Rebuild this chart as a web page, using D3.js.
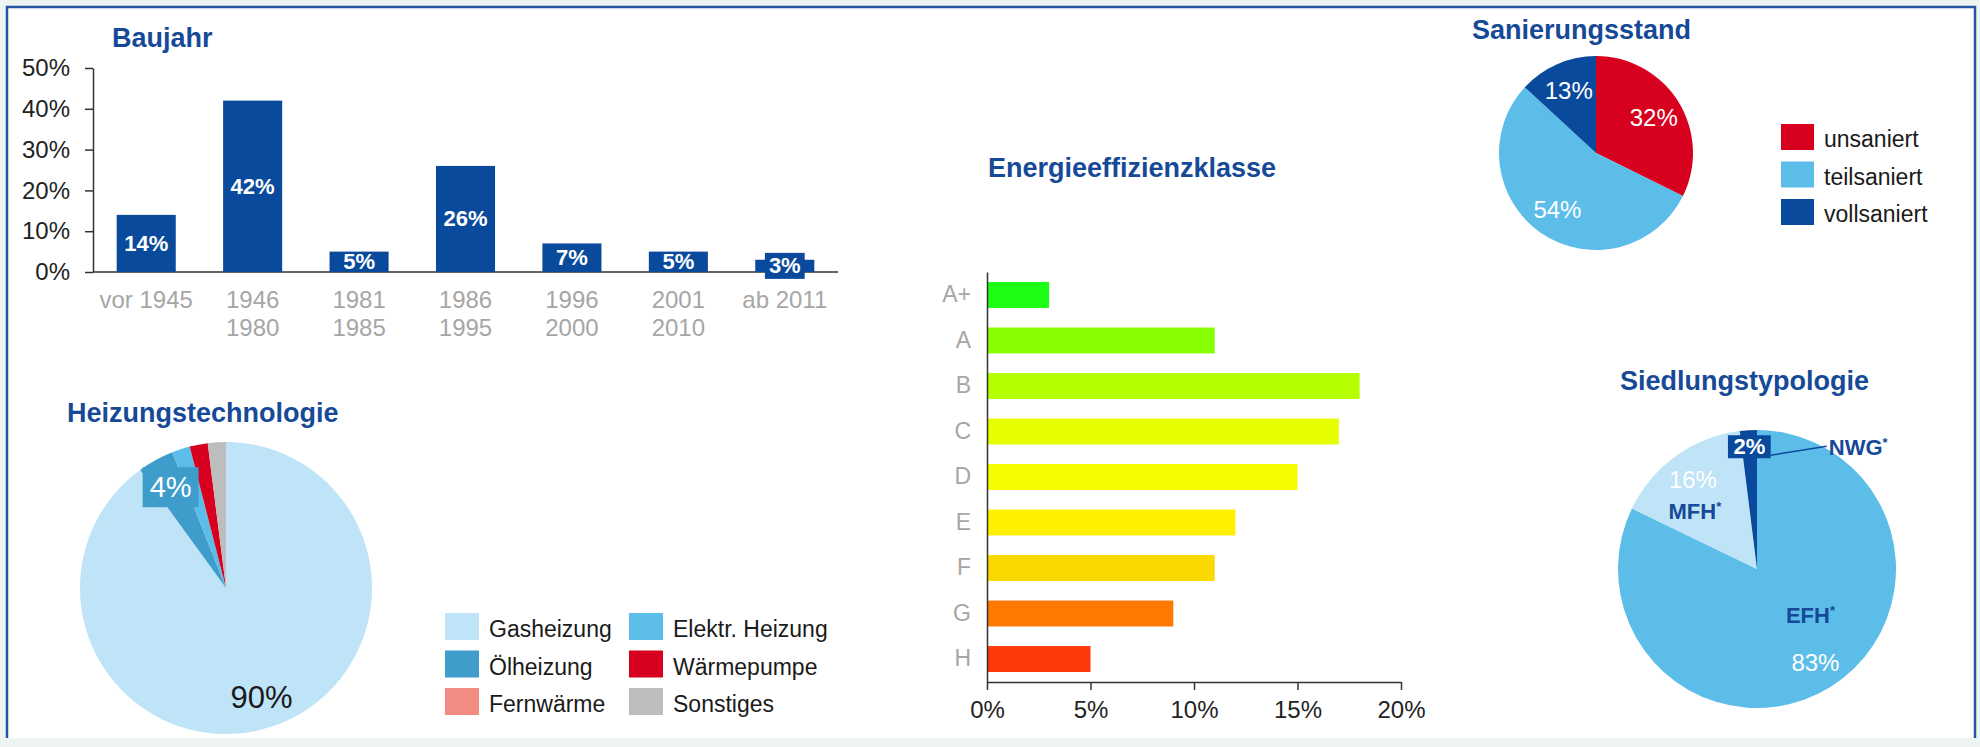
<!DOCTYPE html>
<html>
<head>
<meta charset="utf-8">
<script src="https://cdn.jsdelivr.net/npm/d3@7"></script>
<style>
  body { margin: 0; background: #eef4f1; }
  svg { display: block; font-family: "Liberation Sans", Arial, sans-serif; }
</style>
</head>
<body>
<svg id="chart"></svg>
<script>
const width = 1980;
const height = 747;

// Baujahr
const baujahrLabels = [["vor 1945"], ["1946", "1980"], ["1981", "1985"], ["1986", "1995"], ["1996", "2000"], ["2001", "2010"], ["ab 2011"]];
const baujahrValues = [14, 42, 5, 26, 7, 5, 3];
const baujahrTicks = [0, 10, 20, 30, 40, 50];

// Heizungstechnologie (pie order, legend is column-major)
const heizNames = ["Gasheizung", "Ölheizung", "Fernwärme", "Elektr. Heizung", "Wärmepumpe", "Sonstiges"];
const heizValues = [90, 4, 0, 2, 2, 2];
const heizColors = ["#bfe3f7", "#3e9dcb", "#f28b81", "#5cbde9", "#d7001e", "#bdbdbd"];

// Energieeffizienzklasse
const effClasses = ["A+", "A", "B", "C", "D", "E", "F", "G", "H"];
const effValues = [3, 11, 18, 17, 15, 12, 11, 9, 5];
const effColors = ["#1cff14", "#88ff00", "#b5ff00", "#e5ff00", "#f8fc00", "#fff100", "#f9d900", "#ff7800", "#ff3808"];
const effTicks = [0, 5, 10, 15, 20];

// Sanierungsstand
const sanNames = ["unsaniert", "teilsaniert", "vollsaniert"];
const sanValues = [32, 54, 13];
const sanColors = ["#d7001e", "#5cbde9", "#0a4a9c"];

// Siedlungstypologie
const siedNames = ["EFH", "MFH", "NWG"];
const siedValues = [83, 16, 2];
const siedColors = ["#5cbde9", "#bfe3f7", "#0a4a9c"];

const titleColor = "#164a98";
const barBlue = "#0a4a9c";

const svg = d3.select("#chart")
    .attr("width", width)
    .attr("height", height);

// background + frame
svg.append("rect").attr("width", width).attr("height", height).attr("fill", "#eef4f1");
svg.append("rect")
    .attr("x", 7).attr("y", 7)
    .attr("width", 1968).attr("height", 731)
    .attr("fill", "#ffffff");
svg.append("path")
    .attr("d", "M7,738V7H1975V738")
    .attr("fill", "none")
    .attr("stroke", "#2454a4")
    .attr("stroke-width", 2.5);

function title(x, y, txt) {
    svg.append("text")
        .attr("x", x).attr("y", y)
        .text(txt)
        .style("font-size", "27px")
        .style("font-weight", "bold")
        .style("fill", titleColor);
}

// ---------- Baujahr ----------
title(112, 47, "Baujahr");

const bx = d3.scaleBand()
    .domain(d3.range(baujahrValues.length))
    .range([93, 838])
    .paddingInner(0.445)
    .paddingOuter(0.2225);
const by = d3.scaleLinear().domain([0, 50]).range([272, 68]);

const yAxisB = svg.append("g")
    .attr("transform", "translate(93,0)")
    .call(d3.axisLeft(by)
        .tickValues(baujahrTicks)
        .tickSize(8)
        .tickSizeOuter(0)
        .tickPadding(15)
        .tickFormat(d => d + "%"));
yAxisB.selectAll("text").style("font-size", "24px").style("fill", "#222").style("font-family", "Liberation Sans, Arial, sans-serif");
yAxisB.selectAll("line, path").attr("stroke", "#333").attr("stroke-width", 1.5);

svg.append("line")
    .attr("x1", bx.range()[0]).attr("x2", bx.range()[1])
    .attr("y1", by(0)).attr("y2", by(0))
    .attr("stroke", "#333").attr("stroke-width", 1.5);

svg.selectAll(".bj-bar")
    .data(baujahrValues)
    .enter().append("rect")
    .attr("class", "bj-bar")
    .attr("x", (d, i) => bx(i))
    .attr("y", d => by(d))
    .attr("width", bx.bandwidth())
    .attr("height", d => by(0) - by(d))
    .attr("fill", barBlue);

// value labels (small bars get a box behind the label)
baujahrValues.forEach((v, i) => {
    const cx = bx(i) + bx.bandwidth() / 2;
    const cy = (by(v) + by(0)) / 2;
    const g = svg.append("g");
    const t = g.append("text")
        .attr("x", cx).attr("y", cy)
        .attr("text-anchor", "middle")
        .attr("dominant-baseline", "central")
        .text(v + "%")
        .style("font-size", "22px")
        .style("font-weight", "bold")
        .style("fill", "#fff");
    if (by(0) - by(v) < 16) {
        const bb = t.node().getBBox();
        g.insert("rect", "text")
            .attr("x", bb.x - 4).attr("y", cy - 13)
            .attr("width", bb.width + 8).attr("height", 26)
            .attr("fill", barBlue);
    }
});

// category labels
baujahrLabels.forEach((lines, i) => {
    const t = svg.append("text")
        .attr("text-anchor", "middle")
        .style("font-size", "24px")
        .style("fill", "#a6a6a6");
    lines.forEach((ln, k) => {
        t.append("tspan")
            .attr("x", bx(i) + bx.bandwidth() / 2)
            .attr("y", by(0) + 36 + k * 28)
            .text(ln);
    });
});

// ---------- Heizungstechnologie ----------
title(67, 422, "Heizungstechnologie");

const heizR = 146;
const heizG = svg.append("g").attr("transform", "translate(226,588)");
const heizPie = d3.pie().sort(null).value(d => d)(heizValues);
const heizArc = d3.arc().innerRadius(0).outerRadius(heizR);
const heizLabelArc = d3.arc().innerRadius(115).outerRadius(115);

heizG.selectAll("path")
    .data(heizPie)
    .enter().append("path")
    .attr("d", heizArc)
    .attr("fill", (d, i) => heizColors[i]);

heizPie.forEach((d, i) => {
    if (d.data < 4) return;
    const [lx, ly] = heizLabelArc.centroid(d);
    const light = d3.hsl(heizColors[i]).l > 0.7;
    const g = heizG.append("g");
    const t = g.append("text")
        .attr("x", lx).attr("y", ly)
        .attr("text-anchor", "middle")
        .attr("dominant-baseline", "central")
        .text(d.data + "%")
        .style("font-size", light ? "31px" : "29px")
        .style("fill", light ? "#1a1a1a" : "#fff");
    if (d.data < 10) {
        const bb = t.node().getBBox();
        g.insert("rect", "text")
            .attr("x", bb.x - 7).attr("y", ly - 20)
            .attr("width", bb.width + 14).attr("height", 40)
            .attr("fill", heizColors[i]);
    }
});

const heizLegend = svg.append("g").attr("transform", "translate(445,613)");
heizNames.forEach((name, i) => {
    const col = Math.floor(i / 3), row = i % 3;
    const g = heizLegend.append("g")
        .attr("transform", `translate(${col * 184},${row * 37.5})`);
    g.append("rect").attr("width", 34).attr("height", 27).attr("fill", heizColors[i]);
    g.append("text")
        .attr("x", 44).attr("y", 24)
        .text(name)
        .style("font-size", "23px")
        .style("fill", "#1a1a1a");
});

// ---------- Energieeffizienzklasse ----------
title(988, 177, "Energieeffizienzklasse");

const ey = d3.scaleBand()
    .domain(effClasses)
    .range([272, 682])
    .paddingInner(0.43)
    .paddingOuter(0.22);
const ex = d3.scaleLinear().domain([0, 20]).range([987, 1401]);

svg.selectAll(".eff-bar")
    .data(effValues)
    .enter().append("rect")
    .attr("class", "eff-bar")
    .attr("x", ex(0))
    .attr("y", (d, i) => ey(effClasses[i]))
    .attr("width", d => ex(d) - ex(0))
    .attr("height", ey.bandwidth())
    .attr("fill", (d, i) => effColors[i]);

const yAxisE = svg.append("g")
    .attr("transform", `translate(${ex(0)},0)`)
    .call(d3.axisLeft(ey).tickSize(0).tickPadding(16));
yAxisE.selectAll("text").style("font-size", "23px").style("fill", "#a6a6a6").style("font-family", "Liberation Sans, Arial, sans-serif");
yAxisE.select(".domain").attr("stroke", "#333").attr("stroke-width", 1.5);

const xAxisE = svg.append("g")
    .attr("transform", "translate(0,682)")
    .call(d3.axisBottom(ex)
        .tickValues(effTicks)
        .tickSize(8)
        .tickSizeOuter(0)
        .tickPadding(11)
        .tickFormat(d => d + "%"));
xAxisE.selectAll("text").style("font-size", "24px").style("fill", "#222").style("font-family", "Liberation Sans, Arial, sans-serif");
xAxisE.selectAll("line, path").attr("stroke", "#333").attr("stroke-width", 1.5);

// ---------- Sanierungsstand ----------
title(1472, 39, "Sanierungsstand");

const sanR = 97;
const sanG = svg.append("g").attr("transform", "translate(1596,153)");
const sanPie = d3.pie().sort(null).value(d => d)(sanValues);
const sanArc = d3.arc().innerRadius(0).outerRadius(sanR);
const sanLabelArc = d3.arc().innerRadius(68).outerRadius(68);

sanG.selectAll("path")
    .data(sanPie)
    .enter().append("path")
    .attr("d", sanArc)
    .attr("fill", (d, i) => sanColors[i]);

sanG.selectAll("text")
    .data(sanPie)
    .enter().append("text")
    .attr("transform", d => `translate(${sanLabelArc.centroid(d)})`)
    .attr("text-anchor", "middle")
    .attr("dominant-baseline", "central")
    .text(d => d.data + "%")
    .style("font-size", "24px")
    .style("fill", "#fff");

const sanLegend = svg.append("g").attr("transform", "translate(1781,124)");
sanNames.forEach((name, i) => {
    const g = sanLegend.append("g").attr("transform", `translate(0,${i * 37.5})`);
    g.append("rect").attr("width", 33).attr("height", 26).attr("fill", sanColors[i]);
    g.append("text")
        .attr("x", 43).attr("y", 23)
        .text(name)
        .style("font-size", "23px")
        .style("fill", "#1a1a1a");
});

// ---------- Siedlungstypologie ----------
title(1620, 390, "Siedlungstypologie");

const siedR = 139;
const siedCx = 1757, siedCy = 569;
const siedG = svg.append("g").attr("transform", `translate(${siedCx},${siedCy})`);
const siedPie = d3.pie().sort(null).value(d => d)(siedValues);
const siedArc = d3.arc().innerRadius(0).outerRadius(siedR);
const siedLabelArc = d3.arc().innerRadius(110).outerRadius(110);
const siedSmallArc = d3.arc().innerRadius(123).outerRadius(123);
const nameOffset = { EFH: [-5, -47], MFH: [2, 31] };

siedG.selectAll("path")
    .data(siedPie)
    .enter().append("path")
    .attr("d", siedArc)
    .attr("fill", (d, i) => siedColors[i]);

function nameLabel(parent, x, y, name, anchor) {
    const t = parent.append("text")
        .attr("x", x).attr("y", y)
        .attr("text-anchor", anchor)
        .attr("dominant-baseline", "central")
        .style("font-size", "22px")
        .style("font-weight", "bold")
        .style("fill", titleColor);
    t.append("tspan").text(name);
    t.append("tspan").attr("dy", -5).style("font-size", "13px").text("*");
}

siedPie.forEach((d, i) => {
    const name = siedNames[i];
    if (d.data >= 5) {
        const [lx, ly] = siedLabelArc.centroid(d);
        siedG.append("text")
            .attr("x", lx).attr("y", ly)
            .attr("text-anchor", "middle")
            .attr("dominant-baseline", "central")
            .text(d.data + "%")
            .style("font-size", "24px")
            .style("fill", "#fff");
        const off = nameOffset[name];
        nameLabel(siedG, lx + off[0], ly + off[1], name, "middle");
    } else {
        const [lx, ly] = siedSmallArc.centroid(d);
        const g = siedG.append("g");
        const t = g.append("text")
            .attr("x", lx).attr("y", ly)
            .attr("text-anchor", "middle")
            .attr("dominant-baseline", "central")
            .text(d.data + "%")
            .style("font-size", "22px")
            .style("font-weight", "bold")
            .style("fill", "#fff");
        const bb = t.node().getBBox();
        const bx0 = bb.x - 5.5, bw = bb.width + 11;
        g.insert("rect", "text")
            .attr("x", bx0).attr("y", ly - 11)
            .attr("width", bw).attr("height", 23)
            .attr("fill", siedColors[i]);
        const x1 = bx0 + bw, y1 = ly + 9;
        g.append("line")
            .attr("x1", x1).attr("y1", y1)
            .attr("x2", x1 + 56).attr("y2", ly)
            .attr("stroke", siedColors[i])
            .attr("stroke-width", 1.5);
        nameLabel(g, x1 + 58, ly + 1, name, "start");
    }
});
</script>
</body>
</html>
